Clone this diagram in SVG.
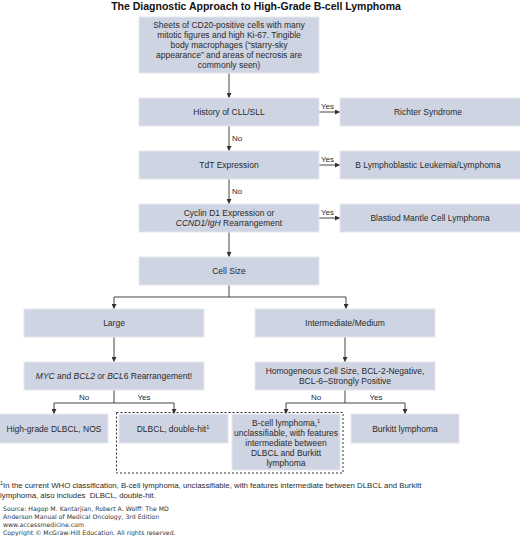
<svg xmlns="http://www.w3.org/2000/svg" width="520" height="536" viewBox="0 0 520 536">
<defs>
<marker id="ah" viewBox="0 0 6 6" refX="6" refY="3" markerWidth="5" markerHeight="5" orient="auto" markerUnits="userSpaceOnUse">
<path d="M0,0 L6,3 L0,6 z" fill="#333"/>
</marker>
<style>
.box{fill:#cfd4e2;stroke:#e4e7ef;stroke-width:1}
.t{font-family:"Liberation Sans",Arial,sans-serif;font-size:8.5px;fill:#2a2a2a;text-anchor:middle}
.lb{font-family:"Liberation Sans",Arial,sans-serif;font-size:8px;fill:#2a2a2a}
.ln{fill:none;stroke:#444;stroke-width:1}
.sup{font-size:5.5px}
.src{font-family:"DejaVu Sans",Verdana,sans-serif;font-size:6.2px;fill:#333}
</style>
</defs>
<rect width="520" height="536" fill="#fff"/>
<text x="256" y="9.5" style="font-family:'Liberation Sans',Arial,sans-serif;font-size:10.5px;font-weight:bold;fill:#111" text-anchor="middle">The Diagnostic Approach to High-Grade B-cell Lymphoma</text>

<g id="connectors">
<path class="ln" d="M229,73 V98" marker-end="url(#ah)"/>
<path class="ln" d="M319,112 H340" marker-end="url(#ah)"/>
<path class="ln" d="M229,126 V151" marker-end="url(#ah)"/>
<path class="ln" d="M319,165 H340" marker-end="url(#ah)"/>
<path class="ln" d="M229,179 V204" marker-end="url(#ah)"/>
<path class="ln" d="M319,218 H340" marker-end="url(#ah)"/>
<path class="ln" d="M229,232 V257" marker-end="url(#ah)"/>
<path class="ln" d="M229,285 V297"/>
<path class="ln" d="M114,297 H346"/>
<path class="ln" d="M114,297 V309" marker-end="url(#ah)"/>
<path class="ln" d="M346,297 V309" marker-end="url(#ah)"/>
<path class="ln" d="M114,337 V362" marker-end="url(#ah)"/>
<path class="ln" d="M345,337 V362" marker-end="url(#ah)"/>
<path class="ln" d="M114,390 V403"/>
<path class="ln" d="M54,403 H174"/>
<path class="ln" d="M54,403 V414" marker-end="url(#ah)"/>
<path class="ln" d="M174,403 V414" marker-end="url(#ah)"/>
<path class="ln" d="M345,390 V403"/>
<path class="ln" d="M286,403 H405"/>
<path class="ln" d="M286,403 V414" marker-end="url(#ah)"/>
<path class="ln" d="M405,403 V414" marker-end="url(#ah)"/>
<text class="lb" x="321" y="109">Yes</text>
<text class="lb" x="321" y="162">Yes</text>
<text class="lb" x="321" y="215">Yes</text>
<text class="lb" x="232" y="141">No</text>
<text class="lb" x="232" y="194">No</text>
<text class="lb" x="84" y="400" text-anchor="middle">No</text>
<text class="lb" x="144" y="400" text-anchor="middle">Yes</text>
<text class="lb" x="316" y="400" text-anchor="middle">No</text>
<text class="lb" x="376" y="400" text-anchor="middle">Yes</text>
<rect x="116.5" y="412.5" width="226.5" height="60.5" fill="none" stroke="#333" stroke-width="1" stroke-dasharray="2,2"/>
</g>

<g id="start">
<rect class="box" x="139" y="17" width="180" height="56"/>
<text class="t"><tspan x="229" y="28">Sheets of CD20-positive cells with many</tspan><tspan x="229" y="38">mitotic figures and high Ki-67. Tingible</tspan><tspan x="229" y="48">body macrophages (“starry-sky</tspan><tspan x="229" y="58">appearance” and areas of necrosis are</tspan><tspan x="229" y="68">commonly seen)</tspan></text>
</g>
<g id="cll">
<rect class="box" x="139" y="98" width="180" height="28"/>
<text class="t" x="229" y="115">History of CLL/SLL</text>
</g>
<g id="richter">
<rect class="box" x="340" y="98" width="181" height="28"/>
<text class="t" x="428" y="115">Richter Syndrome</text>
</g>
<g id="tdt">
<rect class="box" x="139" y="151" width="180" height="28"/>
<text class="t" x="229" y="168">TdT Expression</text>
</g>
<g id="bll">
<rect class="box" x="340" y="151" width="181" height="28"/>
<text class="t" x="428" y="168">B Lymphoblastic Leukemia/Lymphoma</text>
</g>
<g id="cyclin">
<rect class="box" x="139" y="204" width="180" height="28"/>
<text class="t"><tspan x="229" y="216">Cyclin D1 Expression or</tspan><tspan x="229" y="226"><tspan font-style="italic">CCND1/IgH</tspan> Rearrangement</tspan></text>
</g>
<g id="mantle">
<rect class="box" x="340" y="204" width="181" height="28"/>
<text class="t" x="430" y="221">Blastiod Mantle Cell Lymphoma</text>
</g>
<g id="cellsize">
<rect class="box" x="139" y="257" width="180" height="28"/>
<text class="t" x="229" y="274">Cell Size</text>
</g>
<g id="large">
<rect class="box" x="24" y="309" width="180" height="28"/>
<text class="t" x="114" y="326">Large</text>
</g>
<g id="intermediate">
<rect class="box" x="255" y="309" width="180" height="28"/>
<text class="t" x="345" y="326">Intermediate/Medium</text>
</g>
<g id="myc">
<rect class="box" x="24" y="362" width="180" height="28"/>
<text class="t" x="114" y="379"><tspan font-style="italic">MYC</tspan> and <tspan font-style="italic">BCL2</tspan> or <tspan font-style="italic">BCL</tspan>6 Rearrangement!</text>
</g>
<g id="homogeneous">
<rect class="box" x="255" y="362" width="180" height="28"/>
<text class="t"><tspan x="345" y="374">Homogeneous Cell Size, BCL-2-Negative,</tspan><tspan x="345" y="384">BCL-6–Strongly Positive</tspan></text>
</g>
<g id="hgdlbcl">
<rect class="box" x="-1" y="414" width="109" height="29"/>
<text class="t" x="54" y="431.5">High-grade DLBCL, NOS</text>
</g>
<g id="doublehit">
<rect class="box" x="119" y="414" width="109" height="29"/>
<text class="t" x="173" y="431.5">DLBCL, double-hit<tspan class="sup" dy="-3">1</tspan></text>
</g>
<g id="bcellunclass">
<rect class="box" x="232" y="414" width="108" height="56"/>
<text class="t"><tspan x="286" y="426">B-cell lymphoma,<tspan class="sup" dy="-3">1</tspan></tspan><tspan x="286" y="436">unclassifiable, with features</tspan><tspan x="286" y="446">intermediate between</tspan><tspan x="286" y="456">DLBCL and Burkitt</tspan><tspan x="286" y="466">lymphoma</tspan></text>
</g>
<g id="burkitt">
<rect class="box" x="351" y="414" width="108" height="29"/>
<text class="t" x="405" y="431.5">Burkitt lymphoma</text>
</g>

<text class="lb" style="font-size:7.8px" xml:space="preserve"><tspan x="0" y="488"><tspan class="sup" dy="-3">1</tspan><tspan dy="3">In the current WHO classification, B-cell lymphoma, unclassifiable, with features intermediate between DLBCL and Burkitt</tspan></tspan><tspan x="0" y="498">lymphoma, also includes  DLBCL, double-hit.</tspan></text>
<text class="src"><tspan x="3" y="511">Source: Hagop M. Kantarjian, Robert A. Wolff: The MD</tspan><tspan x="3" y="519">Anderson Manual of Medical Oncology, 3rd Edition</tspan><tspan x="3" y="527">www.accessmedicine.com</tspan><tspan x="3" y="535">Copyright © McGraw-Hill Education. All rights reserved.</tspan></text>
</svg>
